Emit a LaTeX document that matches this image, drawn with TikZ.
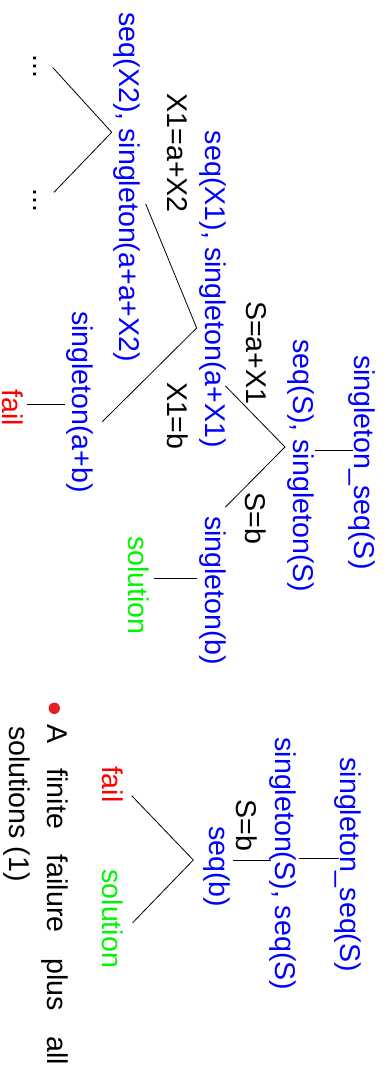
\documentclass[tikz,border=0pt]{standalone}
\usepackage{fontspec}
\setmainfont{Liberation Sans}
\definecolor{goalblue}{RGB}{0,0,255}
\definecolor{failred}{RGB}{255,0,0}
\definecolor{solgreen}{RGB}{0,245,0}
\definecolor{bulletred}{RGB}{230,30,40}
\tikzset{
  lab/.style={rotate=-90,anchor=base west,inner sep=0pt,outer sep=0pt,font=\fontsize{28.6}{34}\selectfont},
  goal/.style={lab,text=goalblue},
  bind/.style={lab,text=black},
  failt/.style={lab,text=failred},
  solt/.style={lab,text=solgreen},
  edge/.style={draw=black,line width=0.8pt}
}
\begin{document}
\begin{tikzpicture}[x=1pt,y=-1pt]
\useasboundingbox (0,0) rectangle (389,1075);
% ---------- tree 1 ----------
\node[goal] (n1) at (354,355) {singleton\_seq(S)};
\node[goal] (n2) at (293,339.5) {seq(S), singleton(S)};
\node[bind] (l1) at (246,301) {S=a+X1};
\node[goal] (n3) at (205.5,131) {seq(X1), singleton(a+X1)};
\node[bind] (l2) at (167.5,93.5) {X1=a+X2};
\node[goal] (n4) at (119.5,12.5) {seq(X2), singleton(a+a+X2)};
\node[bind] (d1) at (33,54.5) {...};
\node[bind] (d2) at (33,189) {...};
\node[bind] (l3) at (167,382) {X1=b};
\node[goal] (n5) at (72,311) {singleton(a+b)};
\node[failt] (f1) at (2.5,389.5) {fail};
\node[bind] (l4) at (245.5,492.5) {S=b};
\node[goal] (n6) at (205.5,516) {singleton(b)};
\node[solt] (s1) at (128.5,536) {solution};
% connector points
\coordinate (n1e) at (352.5,450);
\coordinate (n2e) at (315,450);
\coordinate (n2a) at (285,447);
\coordinate (n3e) at (225.5,386);
\coordinate (n6e) at (225.5,507);
\coordinate (n3a) at (196.7,328);
\coordinate (n4e) at (145.7,204);
\coordinate (n5e) at (102.3,421.7);
\coordinate (n4a) at (111.7,132.3);
\coordinate (d1e) at (52.7,67.5);
\coordinate (d2e) at (54,192.3);
\coordinate (n5a) at (65,404);
\coordinate (f1e) at (26.7,404);
\coordinate (n6a) at (196.7,578);
\coordinate (s1e) at (154,578);
\draw[edge] (n1e) -- (n2e);
\draw[edge] (n2a) -- (n3e);
\draw[edge] (n2a) -- (n6e);
\draw[edge] (n3a) -- (n4e);
\draw[edge] (n3a) -- (n5e);
\draw[edge] (n4a) -- (d1e);
\draw[edge] (n4a) -- (d2e);
\draw[edge] (n5a) -- (f1e);
\draw[edge] (n6a) -- (s1e);
% ---------- tree 2 ----------
\node[goal] (m1) at (340.5,757.5) {singleton\_seq(S)};
\node[goal] (m2) at (275.5,737.5) {singleton(S), seq(S)};
\node[bind] (l5) at (236,799.5) {S=b};
\node[goal] (m3) at (209,826) {seq(b)};
\node[failt] (f2) at (102,766) {fail};
\node[solt] (s2) at (102,869.5) {solution};
\coordinate (m1e) at (339,858.3);
\coordinate (m2e) at (299.3,858.3);
\coordinate (m2a) at (270.7,860);
\coordinate (m3e) at (233.3,860);
\coordinate (m3a) at (193.3,860);
\coordinate (f2e) at (131.7,795.7);
\coordinate (s2e) at (132.7,922.7);
\draw[edge] (m1e) -- (m2e);
\draw[edge] (m2a) -- (m3e);
\draw[edge] (m3a) -- (f2e);
\draw[edge] (m3a) -- (s2e);
% ---------- bullet ----------
\fill[bulletred] (54.3,708.3) circle (5.7);
\node[bind] (b1) at (47,724) {\makebox[341pt][s]{A finite failure plus all}};
\node[bind] (b2) at (9.5,726) {solutions (1)};
\end{tikzpicture}
\end{document}
